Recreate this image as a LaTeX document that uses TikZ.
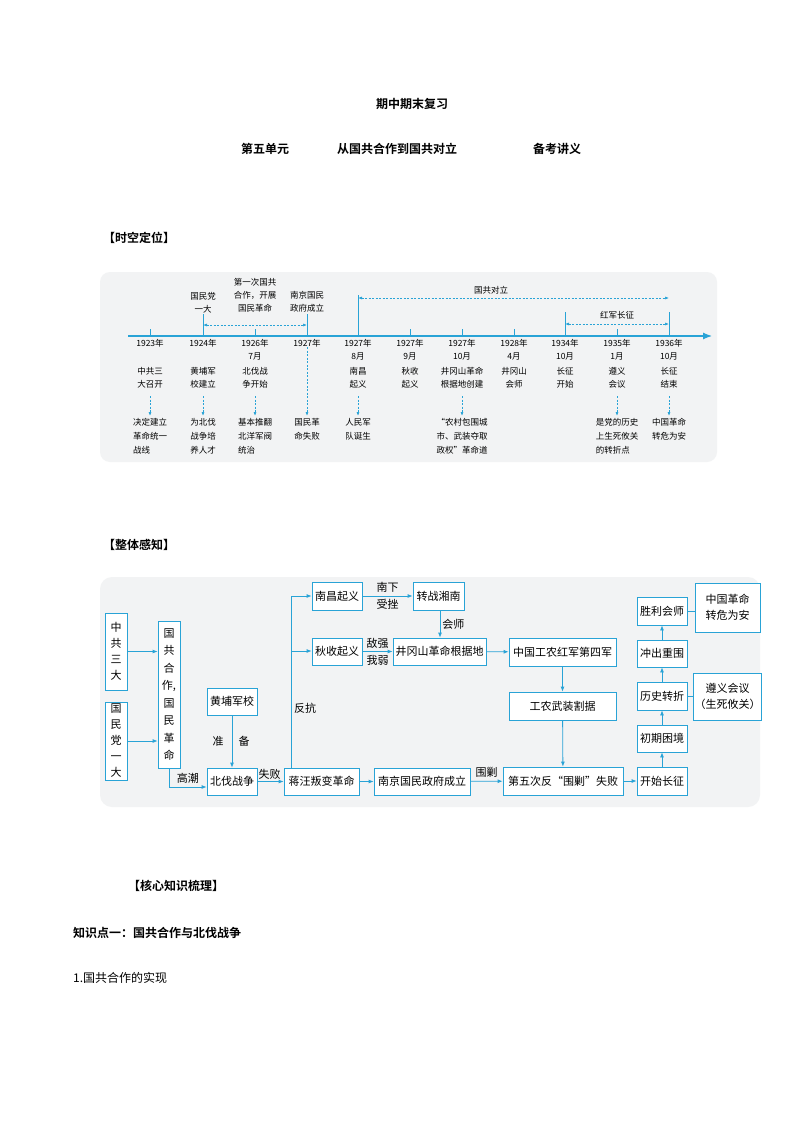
\documentclass[tikz,border=0pt]{standalone}
\usepackage{fontspec}
\setmainfont{Noto Sans CJK SC}[BoldFont={Noto Sans CJK SC Bold}]
\usetikzlibrary{arrows.meta}
\definecolor{cy}{RGB}{41,163,214}
\definecolor{pn}{RGB}{242,243,244}
\newcommand\bx[6]{\node[bx,minimum width={(#4-#2)*1pt},minimum height={(#5-#3)*1pt}] (#1) at ({(#2+#4)/2},{(#3+#5)/2}) {#6};}
\begin{document}
\begin{tikzpicture}[x=1pt,y=-1pt,
 bx/.style={draw=cy,line width=0.8pt,fill=white,inner sep=1pt,font=\fontsize{11}{16}\selectfont,align=center},
 ar/.style={draw=cy,line width=0.8pt,-{Latex[length=5pt,width=4pt]}},
 ln/.style={draw=cy,line width=0.8pt},
 da/.style={draw=cy,line width=0.7pt,dashed,dash pattern=on 2pt off 1.5pt,-{Latex[length=4pt,width=3pt]}},
 dd/.style={draw=cy,line width=0.7pt,dash pattern=on 2pt off 1.5pt,{Latex[length=4pt,width=3pt]}-{Latex[length=4pt,width=3pt]}},
 tl/.style={font=\fontsize{8.5}{13}\selectfont,align=center,inner sep=0pt},
 tlb/.style={font=\fontsize{8.5}{14}\selectfont,align=left,inner sep=0pt,anchor=north},
 lb/.style={font=\fontsize{11}{13}\selectfont,inner sep=0pt},
 hd/.style={font=\fontsize{12}{14}\selectfont\bfseries,inner sep=0pt}]
\useasboundingbox (0,0) rectangle (794,1123);
\fill[white] (0,0) rectangle (794,1123);
% titles
\node[hd] (t1) at (412,104) {期中期末复习};
\node[hd] (t2) at (265,149) {第五单元};
\node[hd] (t3) at (397,149) {从国共合作到国共对立};
\node[hd] (t4) at (557,149) {备考讲义};
\node[hd,anchor=west] (s1) at (103,238) {【时空定位】};
\node[hd,anchor=west] (s2) at (103,545) {【整体感知】};
\node[hd,anchor=west] (s3) at (128,886) {【核心知识梳理】};
\node[hd,anchor=west] (s4) at (73,933) {知识点一：国共合作与北伐战争};
\node[lb,anchor=west,font=\fontsize{12}{14}\selectfont] (s5) at (73,978) {1.国共合作的实现};
% timeline panel
\fill[pn,rounded corners=10pt] (100,272) rectangle (717,462);
\draw[cy,line width=1.2pt,-{Latex[length=9pt,width=7pt]}] (128,336) -- (712,336);
\foreach \x in {150,255,410,462,514,617} \draw[cy,line width=0.8pt] (\x,329) -- (\x,336);
\foreach \x/\t in {203/314,307/314,358/295,565/312,669/312} \draw[cy,line width=0.8pt] (\x,\t) -- (\x,336);
\foreach \n/\x/\y in {a/150/1923年,b/203/1924年,c/255/1926年\\7月,d/307/1927年,e/358/1927年\\8月,f/410/1927年\\9月,g/462/1927年\\10月,h/514/1928年\\4月,i/565/1934年\\10月,j/617/1935年\\1月,k/669/1936年\\10月}
  \node[tl,anchor=north] (y\n) at (\x,339) {\y};
\foreach \n/\x/\e in {a/150/中共三\\大召开,b/203/黄埔军\\校建立,c/255/北伐战\\争开始,e/358/南昌\\起义,f/410/秋收\\起义,g/462/井冈山革命\\根据地创建,h/514/井冈山\\会师,i/565/长征\\开始,j/617/遵义\\会议,k/669/长征\\结束}
  \node[tl,anchor=north] (e\n) at (\x,367) {\e};
\foreach \n/\x in {a/150,b/203,c/255,e/358,g/462,j/617,k/669}
  \coordinate (o\n) at (\x,416);
\coordinate (od) at (307,416);
\foreach \n in {a,b,c,e,g,j,k} \draw[da] (e\n.south|-0,396) -- (o\n);
\draw[da] (yd.south) -- (od);
\node[tlb] at (150,418) {决定建立\\革命统一\\战线};
\node[tlb] at (203,418) {为北伐\\战争培\\养人才};
\node[tlb] at (255,418) {基本推翻\\北洋军阀\\统治};
\node[tlb] at (307,418) {国民革\\命失败};
\node[tlb] at (358,418) {人民军\\队诞生};
\node[tlb] at (462,418) {“农村包围城\\市、武装夺取\\政权”革命道};
\node[tlb] at (617,418) {是党的历史\\上生死攸关\\的转折点};
\node[tlb] at (669,418) {中国革命\\转危为安};
\node[tl] (u1) at (203,303) {国民党\\一大};
\node[tl] (u2) at (255,295) {第一次国共\\合作，开展\\国民革命};
\node[tl] (u3) at (307,302) {南京国民\\政府成立};
\draw[dd] (203,325) -- (307,325);
\node[tl] (u4) at (491,290) {国共对立};
\draw[dd] (358,298) -- (669,298);
\node[tl] (u5) at (617,315) {红军长征};
\draw[dd] (565,324) -- (669,324);
% flowchart panel
\fill[pn,rounded corners=12pt] (100,577) rectangle (760,807);
\bx{zg}{105}{613}{127}{690}{中\\共\\三\\大}
\bx{gm}{105}{702}{127}{780}{国\\民\\党\\一\\大}
\node[bx,minimum width=22pt,minimum height=147pt,font=\fontsize{11}{17.5}\selectfont] (gg) at (169,694.5) {国\\共\\合\\作,\\国\\民\\革\\命};
\bx{hp}{207}{688}{257}{715}{黄埔军校}
\bx{bf}{207}{768}{257}{795}{北伐战争}
\bx{jw}{284}{768}{359}{795}{蒋汪叛变革命}
\bx{nj}{374}{768}{470}{795}{南京国民政府成立}
\bx{dw}{503}{767}{623}{795}{第五次反“围剿”失败}
\bx{ks}{637}{767}{687}{795}{开始长征}
\bx{cq}{637}{725}{687}{752}{初期困境}
\bx{ls}{637}{682}{687}{710}{历史转折}
\bx{cc}{637}{640}{687}{667}{冲出重围}
\bx{sl}{637}{597}{687}{625}{胜利会师}
\bx{zh}{695}{583}{760}{632}{中国革命\\转危为安}
\bx{zy}{695}{673}{760}{720}{遵义会议\\（生死攸关）}
\bx{nc}{312}{582}{362}{610}{南昌起义}
\bx{zz}{413}{582}{464}{610}{转战湘南}
\bx{qs}{312}{638}{362}{665}{秋收起义}
\bx{jg}{393}{638}{486}{665}{井冈山革命根据地}
\bx{hj}{509}{638}{616}{666}{中国工农红军第四军}
\bx{gn}{509}{692}{616}{720}{工农武装割据}
\draw[ar] (zg) -- (zg-|gg.west);
\draw[ar] (gm) -- (gm-|gg.west);
\draw[ar] (gg.south) |- (bf.west|-0,787) node[lb,pos=0.75,above=3pt] (gc) {高潮};
\draw[ar] (hp) -- (bf) node[lb,midway,xshift=-14pt] (zb1) {准} node[lb,midway,xshift=12pt] (zb2) {备};
\draw[ar] (bf) -- (jw) node[lb,midway,above=2pt,xshift=-1pt] (sb) {失败};
\coordinate (br1) at (291,596);
\coordinate (br2) at (291,651);
\draw[ln] (jw.north-|br1) -- (br1);
\draw[ar] (br1) -- (nc.west|-br1);
\draw[ar] (br2) -- (qs.west|-br2);
\node[lb] (fk) at (305,708) {反抗};
\draw[ar] (nc) -- (zz) node[lb,midway,above=3pt] (nx) {南下} node[lb,midway,below=3pt] (sc) {受挫};
\draw[ar] (zz.south-|440,0) -- (jg.north-|440,0) node[lb,midway,right=2pt] (hs) {会师};
\draw[ar] (qs) -- (jg) node[lb,midway,above=3pt] (dq) {敌强} node[lb,midway,below=3pt] (wr) {我弱};
\draw[ar] (jg) -- (hj);
\draw[ar] (hj) -- (gn);
\draw[ar] (gn) -- (dw);
\draw[ar] (jw) -- (nj);
\draw[ar] (nj) -- (dw) node[lb,midway,above=4pt] (wj) {围剿};
\draw[ar] (dw) -- (ks);
\draw[ar] (ks) -- (cq);
\draw[ar] (cq) -- (ls);
\draw[ar] (ls) -- (cc);
\draw[ar] (cc) -- (sl);
\draw[ln] (sl) -- (sl-|zh.west);
\draw[ln] (ls) -- (ls-|zy.west);
\end{tikzpicture}
\end{document}
